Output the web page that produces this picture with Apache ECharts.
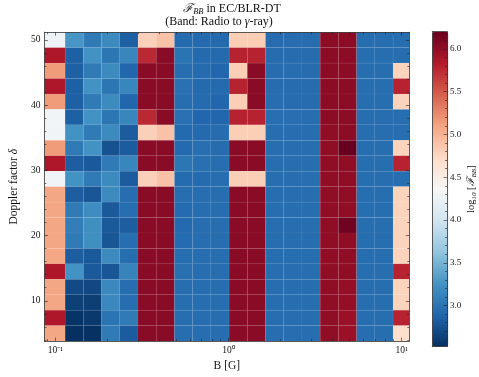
<!DOCTYPE html>
<html>
<head>
<meta charset="utf-8">
<script src="https://cdn.jsdelivr.net/npm/echarts@6/dist/echarts.min.js"></script>
<style>
html, body { margin: 0; padding: 0; background: #fff; }
#chart { width: 479px; height: 377px; }
</style>
</head>
<body>
<div id="chart"></div>
<script>
// 磁场 B (G)，对数间隔
const bValues = [0.1, 0.1274, 0.1624, 0.2069, 0.2637, 0.336, 0.4281, 0.5456, 0.6952, 0.8859,
  1.1288, 1.4384, 1.833, 2.3357, 2.9764, 3.7927, 4.8329, 6.1585, 7.8476, 10];
// Doppler factor
const deltaValues = [5, 7.368, 9.737, 12.105, 14.474, 16.842, 19.211, 21.579, 23.947, 26.316,
  28.684, 31.053, 33.421, 35.789, 38.158, 40.526, 42.895, 45.263, 47.632, 50];
// log10 F_BB, 每行一个 delta，从 delta = 50 (上) 到 delta = 5 (下)
const fluxRows = [
  [4.25, 3.28, 3.05, 3.18, 2.85, 4.80, 4.90, 2.93, 2.92, 2.92, 4.82, 4.82, 2.94, 2.94, 2.94, 6.02, 6.02, 2.95, 2.95, 2.95],
  [5.85, 2.85, 3.25, 3.02, 3.15, 5.75, 6.03, 3.00, 2.92, 2.92, 5.78, 5.78, 2.94, 2.94, 2.94, 6.02, 6.02, 2.95, 2.95, 2.95],
  [5.15, 2.85, 3.05, 3.18, 2.90, 6.03, 6.03, 2.95, 2.93, 2.90, 4.82, 6.03, 2.94, 2.95, 2.94, 6.02, 6.02, 2.95, 2.95, 4.78],
  [5.85, 2.85, 3.25, 3.02, 3.15, 6.03, 6.03, 2.98, 2.92, 2.92, 5.78, 6.03, 2.94, 2.94, 2.94, 6.02, 6.02, 2.95, 2.95, 5.78],
  [5.15, 2.85, 3.05, 3.18, 2.90, 6.03, 6.03, 2.95, 2.93, 2.90, 4.82, 6.03, 2.95, 2.94, 2.94, 6.02, 6.02, 2.95, 2.95, 4.78],
  [4.30, 2.85, 3.25, 3.02, 3.15, 5.75, 6.03, 2.98, 2.90, 2.90, 5.78, 5.78, 2.96, 2.96, 2.95, 6.02, 6.02, 2.95, 2.95, 2.95],
  [4.30, 3.25, 3.05, 3.18, 2.82, 4.80, 4.90, 2.92, 2.92, 2.94, 4.82, 4.82, 2.95, 2.95, 2.95, 6.00, 6.02, 2.95, 2.95, 2.95],
  [5.15, 3.05, 3.25, 2.75, 2.82, 6.03, 6.03, 2.92, 2.96, 2.94, 6.03, 6.03, 2.95, 2.95, 2.95, 6.00, 6.20, 2.95, 2.95, 4.78],
  [5.85, 2.83, 2.80, 3.05, 3.15, 6.03, 6.03, 3.02, 2.97, 2.95, 6.03, 6.03, 2.95, 2.95, 2.95, 6.00, 6.00, 2.95, 2.95, 5.78],
  [4.30, 3.25, 3.05, 3.18, 2.82, 4.80, 4.90, 2.93, 2.93, 2.95, 4.82, 4.82, 2.95, 2.95, 2.96, 6.00, 6.00, 2.95, 2.95, 2.95],
  [5.08, 2.83, 2.78, 3.18, 2.95, 6.03, 6.03, 2.95, 2.95, 2.95, 6.03, 6.03, 2.95, 2.95, 2.95, 6.00, 6.00, 2.95, 2.95, 4.78],
  [5.08, 3.05, 3.20, 2.80, 2.95, 6.03, 6.03, 2.93, 2.95, 2.95, 6.03, 6.03, 2.95, 2.95, 2.95, 6.00, 6.00, 2.95, 2.95, 4.78],
  [5.08, 3.08, 3.22, 2.80, 2.83, 6.03, 6.03, 2.92, 2.95, 2.95, 6.03, 6.03, 2.95, 2.95, 2.95, 6.00, 6.16, 2.95, 2.95, 4.78],
  [5.08, 3.05, 3.22, 2.78, 2.95, 6.03, 6.03, 2.93, 2.95, 2.95, 6.03, 6.03, 2.95, 2.95, 2.95, 6.00, 6.00, 2.95, 2.95, 4.78],
  [5.08, 2.83, 2.80, 3.18, 2.95, 6.03, 6.03, 2.95, 2.95, 2.95, 6.03, 6.03, 2.95, 2.95, 2.95, 6.00, 6.00, 2.95, 2.95, 4.78],
  [5.85, 3.25, 2.80, 2.78, 3.13, 6.03, 6.03, 2.97, 2.95, 2.95, 6.03, 6.03, 2.95, 2.95, 2.95, 6.00, 6.00, 2.95, 2.95, 5.78],
  [5.08, 2.70, 2.68, 3.17, 2.95, 6.03, 6.03, 2.95, 2.95, 2.95, 6.03, 6.03, 2.95, 2.95, 2.95, 6.00, 5.98, 2.95, 2.95, 4.78],
  [5.08, 2.63, 2.62, 3.17, 2.95, 6.03, 6.03, 2.95, 2.95, 2.95, 6.03, 6.03, 2.95, 2.95, 2.95, 6.00, 5.98, 2.95, 2.95, 4.78],
  [5.85, 2.55, 2.58, 3.00, 3.05, 6.03, 6.03, 2.95, 2.95, 2.95, 6.03, 6.03, 2.95, 2.95, 2.95, 6.00, 5.95, 2.95, 2.95, 5.78],
  [5.08, 2.52, 2.53, 3.05, 2.82, 6.03, 6.03, 2.95, 2.95, 2.95, 6.03, 6.03, 2.95, 2.95, 2.95, 6.00, 5.95, 2.95, 2.95, 4.68]
];
// 刻度
const xTickExps = [-1, 0, 1];
const yTicks = [10, 20, 30, 40, 50];
const cbarTicks = [3.0, 3.5, 4.0, 4.5, 5.0, 5.5, 6.0];
const vMin = 2.52, vMax = 6.2;
// RdBu_r
const rdbuR = ['#053061', '#2166ac', '#4393c3', '#92c5de', '#d1e5f0', '#f7f7f7',
  '#fddbc7', '#f4a582', '#d6604d', '#b2182b', '#67001f'];

const FONT = 'Liberation Serif';
const INK = '#111';

// pcolormesh 'nearest'：格子边界取相邻中心点的中点
function cellEdges(c) {
  const n = c.length;
  const e = [c[0] - (c[1] - c[0]) / 2];
  for (let i = 0; i < n - 1; i++) e.push((c[i] + c[i + 1]) / 2);
  e.push(c[n - 1] + (c[n - 1] - c[n - 2]) / 2);
  return e;
}
const bEdges = cellEdges(bValues);
const dEdges = cellEdges(deltaValues);
const xLo = Math.log10(bEdges[0]), xHi = Math.log10(bEdges[bEdges.length - 1]);
const yLo = dEdges[0], yHi = dEdges[dEdges.length - 1];

const cells = [];
fluxRows.forEach((row, r) => {
  const j = deltaValues.length - 1 - r;
  row.forEach((v, i) => {
    cells.push([bEdges[i], bEdges[i + 1], dEdges[j], dEdges[j + 1], v]);
  });
});

// 次刻度
const xMinor = [];
[0.01, 0.1, 1].forEach(d => {
  for (let m = 2; m <= 9; m++) {
    const e = Math.log10(m * d);
    if (e > xLo && e < xHi) xMinor.push(e);
  }
});
const yMinor = [];
for (let v = 4; v < yHi; v += 2) if (v % 10 !== 0) yMinor.push(v);
const cbarMinor = [];
for (let k = 26; k <= 61; k++) if (k % 5 !== 0) cbarMinor.push(k / 10);

const sup = { '-1': '\u207b\u00b9', '0': '\u2070', '1': '\u00b9' };

function tickAxis(opt) {
  return Object.assign({
    type: 'value',
    z: 5,
    splitLine: { show: false },
    axisLine: { show: false, onZero: false },
    axisLabel: { show: false },
    axisTick: { show: false }
  }, opt);
}
function ticks(values, len) {
  return { show: true, inside: true, length: len, customValues: values,
    lineStyle: { color: '#222', width: 0.6 } };
}
const frame = { show: true, onZero: false, lineStyle: { color: '#333', width: 0.8 } };

let myChart = echarts.init(document.getElementById('chart'));
const option = {
  animation: false,
  backgroundColor: '#fff',
  title: [
    {
      text: '{f|\u2131}{s|BB}{t| in EC/BLR-DT}',
      left: 232, top: 2, textAlign: 'center', padding: 0,
      textStyle: {
        fontWeight: 'normal',
        rich: {
          t: { fontFamily: FONT, fontSize: 12, fontWeight: 'normal', color: INK, lineHeight: 14 },
          f: { fontFamily: 'DejaVu Serif', fontSize: 12, fontWeight: 'normal', fontStyle: 'italic', color: INK, lineHeight: 14 },
          s: { fontFamily: FONT, fontSize: 8.5, fontWeight: 'normal', fontStyle: 'italic', color: INK, lineHeight: 8, verticalAlign: 'bottom' }
        }
      }
    },
    {
      text: '(Band: Radio to {g|\u03b3}-ray)',
      left: 219, top: 16, textAlign: 'center', padding: 0,
      textStyle: {
        fontFamily: FONT, fontSize: 12, fontWeight: 'normal', color: INK,
        rich: { g: { fontFamily: FONT, fontSize: 12, fontWeight: 'normal', fontStyle: 'italic', color: INK } }
      }
    }
  ],
  grid: [
    { left: 29.3, top: 32.2, width: 380, height: 314.8 },
    { left: 432.3, top: 31.7, width: 16, height: 315 }
  ],
  visualMap: {
    type: 'continuous',
    min: vMin, max: vMax,
    dimension: 4,
    seriesIndex: 0,
    calculable: false,
    hoverLink: false,
    realtime: false,
    padding: 0,
    left: 432.3, top: 31.7,
    itemWidth: 16, itemHeight: 315,
    inRange: { color: rdbuR }
  },
  xAxis: [
    { type: 'log', gridIndex: 0, min: bEdges[0], max: bEdges[bEdges.length - 1], show: false },
    tickAxis({
      gridIndex: 0, position: 'bottom', min: xLo, max: xHi,
      axisLine: frame,
      axisTick: ticks(xTickExps, 3.5),
      axisLabel: {
        show: true, customValues: xTickExps, margin: 4,
        fontFamily: FONT, fontSize: 9.5, color: INK,
        formatter: v => '10' + sup[String(Math.round(v))]
      },
      name: 'B [G]', nameLocation: 'middle', nameGap: 17,
      nameTextStyle: { fontFamily: FONT, fontSize: 11.5, color: INK }
    }),
    tickAxis({ gridIndex: 0, position: 'bottom', min: xLo, max: xHi, axisTick: ticks(xMinor, 2) }),
    tickAxis({ gridIndex: 0, position: 'top', min: xLo, max: xHi, axisLine: frame, axisTick: ticks(xTickExps, 3.5) }),
    tickAxis({ gridIndex: 0, position: 'top', min: xLo, max: xHi, axisTick: ticks(xMinor, 2) }),
    tickAxis({ gridIndex: 1, position: 'bottom', min: 0, max: 1, axisLine: frame }),
    tickAxis({ gridIndex: 1, position: 'top', min: 0, max: 1, axisLine: frame })
  ],
  yAxis: [
    tickAxis({
      gridIndex: 0, position: 'left', min: yLo, max: yHi,
      axisLine: frame,
      axisTick: ticks(yTicks, 3.5),
      axisLabel: {
        show: true, customValues: yTicks, margin: 4,
        fontFamily: FONT, fontSize: 9.5, color: INK
      },
      name: 'Doppler factor {g|\u03b4}', nameLocation: 'middle', nameGap: 23,
      nameTextStyle: {
        fontFamily: FONT, fontSize: 11.5, color: INK,
        rich: { g: { fontFamily: FONT, fontSize: 11.5, fontStyle: 'italic', color: INK } }
      }
    }),
    tickAxis({ gridIndex: 0, position: 'left', min: yLo, max: yHi, axisTick: ticks(yMinor, 2) }),
    tickAxis({ gridIndex: 0, position: 'right', min: yLo, max: yHi, axisLine: frame, axisTick: ticks(yTicks, 3.5) }),
    tickAxis({ gridIndex: 0, position: 'right', min: yLo, max: yHi, axisTick: ticks(yMinor, 2) }),
    tickAxis({ gridIndex: 1, position: 'left', min: vMin, max: vMax, axisLine: frame }),
    tickAxis({
      gridIndex: 1, position: 'right', min: vMin, max: vMax,
      axisLine: frame,
      axisTick: ticks(cbarTicks, 3.5),
      axisLabel: {
        show: true, customValues: cbarTicks, margin: 3,
        fontFamily: FONT, fontSize: 9, color: INK,
        formatter: v => v.toFixed(1)
      },
      name: '{t|log}{s|10}{t| [}{f|\u2131}{s|BB}{t|]}', nameLocation: 'middle', nameRotate: 90, nameGap: 18,
      nameTextStyle: {
        rich: {
          t: { fontFamily: FONT, fontSize: 10.5, color: INK, lineHeight: 13 },
          f: { fontFamily: 'DejaVu Serif', fontSize: 10.5, fontStyle: 'italic', color: INK, lineHeight: 13 },
          s: { fontFamily: FONT, fontSize: 7, fontStyle: 'italic', color: INK, lineHeight: 7, verticalAlign: 'bottom' }
        }
      }
    }),
    tickAxis({ gridIndex: 1, position: 'right', min: vMin, max: vMax, axisTick: ticks(cbarMinor, 2) })
  ],
  series: [
    {
      type: 'custom',
      xAxisIndex: 0,
      yAxisIndex: 0,
      encode: { x: [0, 1], y: [2, 3] },
      data: cells,
      renderItem(params, api) {
        const tl = api.coord([api.value(0), api.value(3)]);
        const br = api.coord([api.value(1), api.value(2)]);
        return {
          type: 'rect',
          shape: { x: tl[0], y: tl[1], width: br[0] - tl[0], height: br[1] - tl[1] },
          style: { fill: api.visual('color'), stroke: 'rgba(255,255,255,0.08)', lineWidth: 0.5 }
        };
      }
    }
  ]
};
myChart.setOption(option);
window.onresize = function () {
  myChart.resize();
};
</script>
</body>
</html>
